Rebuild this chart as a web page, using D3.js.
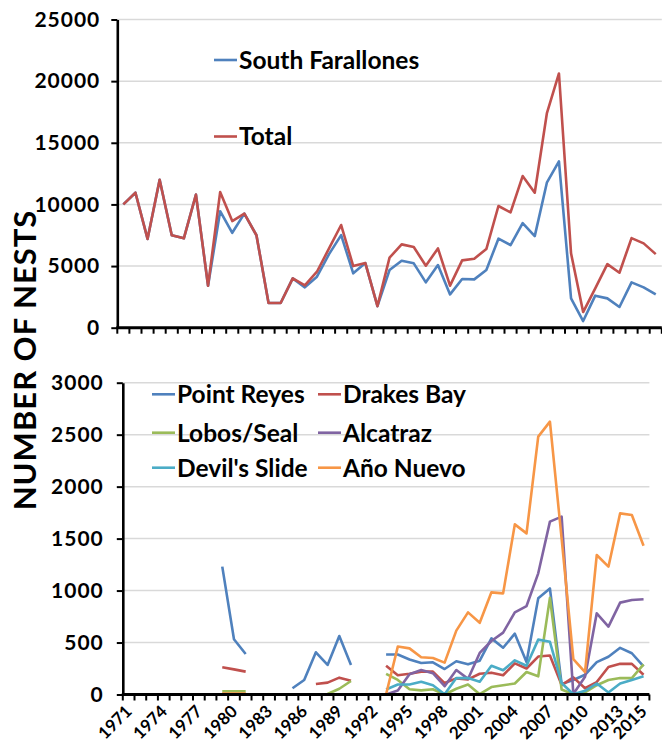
<!DOCTYPE html>
<html><head><meta charset="utf-8">
<script src="https://cdn.jsdelivr.net/npm/d3@7"></script>
<style>
body{margin:0;background:#fff}
svg{display:block}
text{font-family:Lato,'Open Sans',sans-serif;font-weight:700;fill:#000}
</style>
</head><body>
<svg id="c" width="662" height="753"></svg>
<script>
// ---------- DATA ----------
const years = [1971,1972,1973,1974,1975,1976,1977,1978,1979,1980,
  1981,1982,1983,1984,1985,1986,1987,1988,1989,1990,
  1991,1992,1993,1994,1995,1996,1997,1998,1999,2000,
  2001,2002,2003,2004,2005,2006,2007,2008,2009,2010,
  2011,2012,2013,2014,2015];
const yearLabels = [1971,1974,1977,1980,1983,1986,1989,1992,1995,1998,2001,2004,2007,2010,2013,2015];
const topTicks = [0,5000,10000,15000,20000,25000];
const bottomTicks = [0,500,1000,1500,2000,2500,3000];

const southFarallones = [10000,10950,7200,12000,7500,7250,10800,3400,9450,7700,
  9250,7500,2000,2000,4000,3270,4135,5970,7510,4410,
  5240,1750,4680,5430,5220,3680,5080,2700,3950,3920,
  4680,7220,6700,8490,7430,11760,13490,2380,540,2600,
  2380,1680,3680,3270,2700];
const totalNests = [10000,10950,7200,12000,7500,7250,10800,3400,11000,8650,
  9250,7500,2000,2000,4000,3430,4540,6430,8330,5000,
  5240,1750,5680,6760,6540,5030,6430,3410,5460,5600,
  6380,9870,9350,12300,10950,17380,20620,6030,1270,3190,
  5160,4460,7270,6840,5970];

const pointReyes = [null,null,null,null,null,null,null,null,1230,531,
  390,null,null,null,60,140,406,284,563,284,
  null,null,385,385,337,303,310,245,320,290,
  325,540,450,585,312,925,1020,100,140,190,
  312,363,449,397,270];
const drakesBay = [null,null,null,null,null,null,null,null,262,242,
  220,null,null,null,null,null,101,114,162,133,
  null,null,277,185,200,220,220,110,155,145,
  200,210,185,300,250,365,375,90,165,60,
  120,265,295,295,190];
const lobosSeal = [null,null,null,null,null,null,null,null,30,30,
  30,null,null,null,null,null,null,5,55,130,
  null,null,199,140,50,40,50,0,55,96,
  3,72,89,106,216,175,930,48,3,20,
  89,140,158,158,290];
const alcatraz = [null,null,null,null,null,null,null,null,null,null,
  null,null,null,null,null,null,null,null,null,0,
  0,null,0,38,195,235,205,80,235,150,
  400,515,595,790,851,1166,1663,1711,5,170,
  781,653,884,909,916];
const devilsSlide = [null,null,null,null,null,null,null,null,null,null,
  null,null,null,null,null,null,null,null,null,null,
  null,null,48,96,96,123,89,3,158,158,
  123,277,233,329,277,528,507,110,3,35,
  106,20,106,140,175];
const anoNuevo = [null,null,null,null,null,null,null,null,8,8,
  8,null,null,null,0,0,0,0,0,0,
  null,null,3,461,444,358,351,307,615,790,
  690,983,973,1637,1550,2481,2625,1500,340,215,
  1342,1230,1743,1727,1432];

const topSeries = [
  {name:"South Farallones", values:southFarallones, color:"#4F81BD"},
  {name:"Total", values:totalNests, color:"#C0504D"}
];
const bottomSeries = [
  {name:"Point Reyes", values:pointReyes, color:"#4F81BD"},
  {name:"Drakes Bay", values:drakesBay, color:"#C0504D"},
  {name:"Lobos/Seal", values:lobosSeal, color:"#9BBB59"},
  {name:"Alcatraz", values:alcatraz, color:"#8064A2"},
  {name:"Devil's Slide", values:devilsSlide, color:"#4BACC6"},
  {name:"Año Nuevo", values:anoNuevo, color:"#F79646"}
];

// ---------- CHART ----------
const svg = d3.select("#c");

function panel(cfg){
  const g = svg.append("g");
  const x = d3.scaleBand().domain(years).range(cfg.xr).paddingInner(0).paddingOuter(0);
  const y = d3.scaleLinear().domain(cfg.yd).range(cfg.yr);
  const cx = d => x(d) + x.bandwidth()/2;
  g.append("g").selectAll("line").data(cfg.ticks.filter(t=>t>0)).join("line")
    .attr("x1", cfg.xr[0]).attr("x2", cfg.xr[1])
    .attr("y1", d=>y(d)).attr("y2", d=>y(d))
    .attr("stroke","#D9D9D9").attr("stroke-width",1.5);
  const line = d3.line().defined(d=>d.v!=null).x(d=>cx(d.yr)).y(d=>y(d.v));
  cfg.series.forEach(s=>{
    g.append("path")
      .datum(years.map((yr,i)=>({yr, v:s.values[i]})))
      .attr("d", line).attr("fill","none")
      .attr("stroke", s.color).attr("stroke-width",2.6)
      .attr("stroke-linejoin","round");
  });
  const ya = g.append("g").attr("transform",`translate(${cfg.xr[0]},0)`)
    .call(d3.axisLeft(y).tickValues(cfg.ticks).tickSizeInner(6).tickSizeOuter(0).tickPadding(cfg.pad).tickFormat(d3.format("d")));
  ya.select(".domain").attr("stroke","#000").attr("stroke-width",2.6);
  ya.selectAll(".tick line").attr("stroke","#000").attr("stroke-width",2);
  ya.selectAll(".tick text").attr("font-size",cfg.fs).attr("font-family","Lato")
    .attr("font-weight",700).attr("fill","#000").attr("letter-spacing","1px");
  const y0 = y(0);
  g.append("line").attr("x1",cfg.xr[0]-1).attr("x2",cfg.xr[1]).attr("y1",y0).attr("y2",y0)
    .attr("stroke","#000").attr("stroke-width",3);
  const bounds = years.map(d=>x(d)).concat([cfg.xr[1]]);
  g.append("g").selectAll("line").data(bounds).join("line")
    .attr("x1",d=>d).attr("x2",d=>d).attr("y1",y0).attr("y2",y0+6)
    .attr("stroke","#000").attr("stroke-width",2);
  return {g,x,y,cx};
}

const topPanel = panel({xr:[117.3,661.8], yd:[0,25000], yr:[327.7,19.5], ticks:topTicks, series:topSeries, fs:21, pad:11});
const botPanel = panel({xr:[122.8,649.4], yd:[0,3000], yr:[694.5,382.7], ticks:bottomTicks, series:bottomSeries, fs:21, pad:13});

botPanel.g.append("g").selectAll("text").data(yearLabels).join("text")
  .attr("transform", d=>`translate(${botPanel.cx(d)-4},${704}) rotate(-45)`)
  .attr("text-anchor","end").attr("dy","0.7em")
  .attr("font-size",17).text(d=>d);

function legendItem(x, y, s, fs){
  svg.append("line").attr("x1",x).attr("x2",x+23).attr("y1",y).attr("y2",y)
    .attr("stroke",s.color).attr("stroke-width",2.6);
  svg.append("text").attr("x",x+25).attr("y",y).attr("dy","0.36em")
    .attr("font-size",fs).text(s.name);
}
legendItem(214, 60, topSeries[0], 24.5);
legendItem(214, 136.5, topSeries[1], 24.5);
const rows = [394.3, 432.7, 467.7];
bottomSeries.forEach((s,i)=>{
  legendItem(i%2===0 ? 152 : 318, rows[Math.floor(i/2)], s, 24.5);
});

svg.append("text").attr("transform","translate(25,360) rotate(-90)")
  .attr("text-anchor","middle").attr("dy","0.36em")
  .attr("font-size",31).attr("letter-spacing","1px").text("NUMBER OF NESTS");
</script>
</body></html>
